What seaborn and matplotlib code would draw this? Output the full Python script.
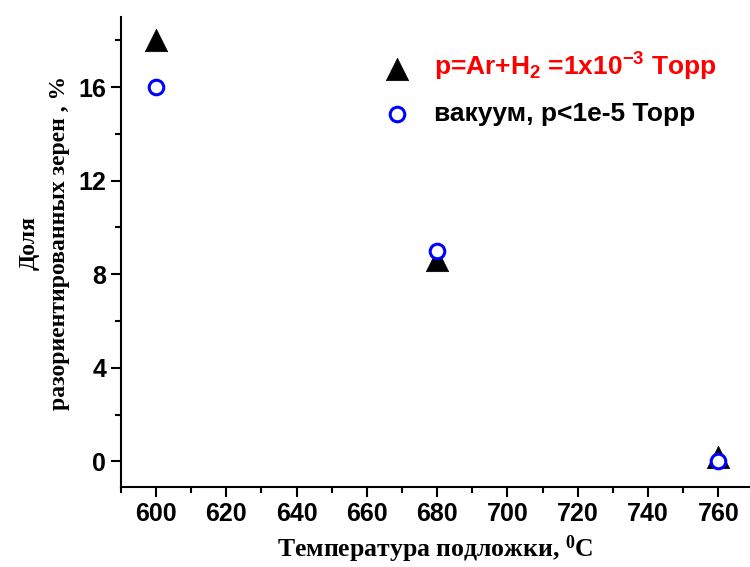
import matplotlib
matplotlib.use("Agg")
import matplotlib.pyplot as plt
from matplotlib.ticker import MultipleLocator
import seaborn as sns
import pandas as pd

# Substrate temperature, deg C
temperature = [600, 680, 760]
# Share of misoriented grains, %
share_ar_h2 = [18.0, 8.6, 0.2]
share_vacuum = [16.0, 9.0, 0.0]

label_ar_h2 = r"p=Ar+H$_\mathregular{2}$ =1x10$^\mathregular{-3}$ Торр"
label_vacuum = "вакуум, p<1e-5 Торр"

sns.set_theme(style="ticks")
plt.rcParams["font.family"] = ["Liberation Sans", "DejaVu Sans"]
plt.rcParams["mathtext.default"] = "regular"
plt.rcParams["text.color"] = "black"
plt.rcParams["xtick.color"] = "black"
plt.rcParams["ytick.color"] = "black"
plt.rcParams["axes.labelcolor"] = "black"

df_ar = pd.DataFrame({"T": temperature, "share": share_ar_h2})
df_vac = pd.DataFrame({"T": temperature, "share": share_vacuum})

fig = plt.figure(figsize=(7.5, 5.67), dpi=100)
ax = fig.add_axes([0.161, 0.141, 0.839, 0.829])

sns.scatterplot(data=df_ar, x="T", y="share", marker="^", s=260,
                color="black", edgecolor="black", linewidth=0.5,
                label=label_ar_h2, ax=ax, zorder=3)
sns.scatterplot(data=df_vac, x="T", y="share", marker="o", s=110,
                facecolor="white", edgecolor="#0000ff", linewidth=2.2,
                label=label_vacuum, ax=ax, zorder=4)

ax.set_xlim(590, 769)
ax.set_ylim(-1.1, 19.0)
ax.xaxis.set_major_locator(MultipleLocator(20))
ax.xaxis.set_minor_locator(MultipleLocator(10))
ax.yaxis.set_major_locator(MultipleLocator(4))
ax.yaxis.set_minor_locator(MultipleLocator(2))

for side in ("top", "right"):
    ax.spines[side].set_visible(False)
for side in ("left", "bottom"):
    ax.spines[side].set_linewidth(1.5)
    ax.spines[side].set_color("black")

ax.tick_params(which="major", direction="out", length=7, width=1.5,
               labelsize=18, color="black", labelcolor="black")
ax.tick_params(which="minor", direction="out", length=4, width=1.5,
               color="black")
for lab in ax.get_xticklabels() + ax.get_yticklabels():
    lab.set_fontweight("bold")

serif = ["Liberation Serif", "DejaVu Serif"]
ax.set_xlabel(r"Температура подложки, $^\mathregular{0}$C", fontsize=18.5,
              fontweight="bold", family=serif, labelpad=6)
ax.set_ylabel("Доля\nразориентированных зерен , %", fontsize=17,
              fontweight="bold", family=serif, linespacing=1.6)
ax.yaxis.set_label_coords(-0.08, 0.52)

leg = ax.legend(loc="upper left", bbox_to_anchor=(0.38, 0.95), frameon=False,
                prop={"weight": "bold", "size": 19}, handletextpad=0.4,
                labelspacing=0.7, borderaxespad=0)
for t in leg.get_texts():
    t.set_color("black")
leg.get_texts()[0].set_color("red")

fig.savefig("out.png", dpi=100)
